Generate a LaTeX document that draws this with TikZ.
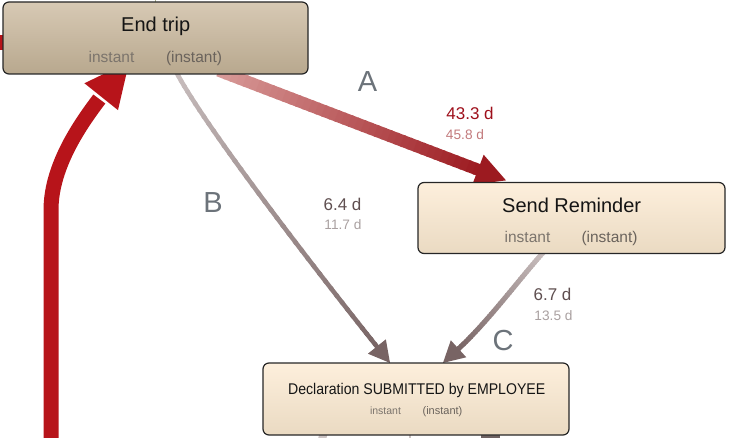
\documentclass[tikz,border=0pt]{standalone}
\usepackage{fontspec}
\setmainfont{Liberation Sans}
\usetikzlibrary{calc}
\pgfdeclarelayer{bg}
\pgfsetlayers{bg,main}

\definecolor{endtop}{HTML}{D7C9B4}
\definecolor{endbot}{HTML}{B8A88E}
\definecolor{bxtop}{HTML}{FDEFDC}
\definecolor{bxbot}{HTML}{EADAC2}
\definecolor{boxline}{HTML}{262626}
\definecolor{aStart}{HTML}{D89C9A}
\definecolor{aEnd}{HTML}{9C1A20}
\definecolor{gStart}{HTML}{CBC1C1}
\definecolor{gEnd}{HTML}{786464}
\definecolor{redArrow}{HTML}{B7141A}
\definecolor{letterc}{HTML}{6C737A}
\definecolor{titlec}{HTML}{151515}
\definecolor{instc}{HTML}{7B746C}
\definecolor{pinstc}{HTML}{6A635C}
\definecolor{durA}{HTML}{9E0F1B}
\definecolor{durAs}{HTML}{C27A7C}
\definecolor{durG}{HTML}{5F4F50}
\definecolor{durGs}{HTML}{A9A0A0}
\definecolor{stubgreen}{HTML}{A8B088}
\definecolor{stublight}{HTML}{CCC4C4}
\definecolor{stubdark}{HTML}{6E6262}

\newcommand{\myfs}[1]{\fontsize{#1pt}{#1pt}\selectfont}

% gradient cubic bezier: #1..#4 coordinates, #5 start colour, #6 end colour, #7 width
\newcommand{\gradbez}[7]{%
  \foreach \i in {1,...,40}{%
    \pgfmathsetmacro{\gbTa}{(\i-1)/40}%
    \pgfmathsetmacro{\gbTb}{min(1,\i/40+0.008)}%
    \pgfmathtruncatemacro{\gbPc}{100-100*(\i-0.5)/40}%
    \pgfmathsetmacro{\gbA}{(1-\gbTa)^3}%
    \pgfmathsetmacro{\gbB}{3*(1-\gbTa)^2*\gbTa}%
    \pgfmathsetmacro{\gbC}{3*(1-\gbTa)*\gbTa^2}%
    \pgfmathsetmacro{\gbD}{\gbTa^3}%
    \pgfmathsetmacro{\gbE}{(1-\gbTb)^3}%
    \pgfmathsetmacro{\gbF}{3*(1-\gbTb)^2*\gbTb}%
    \pgfmathsetmacro{\gbG}{3*(1-\gbTb)*\gbTb^2}%
    \pgfmathsetmacro{\gbH}{\gbTb^3}%
    \draw[line width=#7, color=#5!\gbPc!#6]
      ($\gbA*(#1)+\gbB*(#2)+\gbC*(#3)+\gbD*(#4)$) --
      ($\gbE*(#1)+\gbF*(#2)+\gbG*(#3)+\gbH*(#4)$);
  }}
% triangular head: #1 base centre, #2 tip, #3 half width, #4 colour
\newcommand{\headtri}[4]{%
  \fill[#4] (#2) -- ($(#1)!#3!90:(#2)$) -- ($(#1)!#3!-90:(#2)$) -- cycle;}

\begin{document}
\begin{tikzpicture}[x=1pt,y=-1pt,
  box/.style={draw=boxline, line width=1.2pt, rounded corners=6pt, inner sep=0pt},
  endbox/.style={box, top color=endtop, bottom color=endbot, minimum width=305pt, minimum height=72pt},
  actbox/.style={box, top color=bxtop, bottom color=bxbot, minimum width=306pt, minimum height=71pt},
  title/.style={anchor=base, inner sep=0pt, text=titlec, font=\myfs{20}},
  inst/.style={anchor=base, inner sep=0pt, text=instc, font=\myfs{15.5}},
  pinst/.style={anchor=base, inner sep=0pt, text=pinstc, font=\myfs{15.5}},
  sinst/.style={anchor=base, inner sep=0pt, text=instc, font=\myfs{10.5}},
  spinst/.style={anchor=base, inner sep=0pt, text=pinstc, font=\myfs{11}},
  letter/.style={anchor=base, inner sep=0pt, text=letterc, font=\myfs{29}},
  dur/.style={anchor=base, inner sep=0pt, font=\myfs{17}},
  durs/.style={anchor=base, inner sep=0pt, font=\myfs{13.7}}
]
\useasboundingbox (0,0) rectangle (730,438);
\clip (0,0) rectangle (730,438);

% boxes
\node[endbox] (end) at (155.5,38) {};
\node[actbox, minimum width=307pt] (send) at (571.5,218) {};
\node[actbox, minimum height=72pt] (decl) at (416,399) {};

% texts
\node[title] (endT) at (155.7,31.7) {End trip};
\node[inst] (endI) at (111.5,62.5) {instant};
\node[pinst] (endP) at (194,62.5) {(instant)};
\node[title] (sendT) at (571.7,212.7) {Send Reminder};
\node[inst] (sendI) at (527.5,242.7) {instant};
\node[pinst] (sendP) at (609.5,242.7) {(instant)};
\node[title, font=\myfs{15.5}] (declT) at (416.7,394) {\scalebox{0.91}[1]{Declaration SUBMITTED by EMPLOYEE}};
\node[sinst] (declI) at (385.5,414) {instant};
\node[spinst] (declP) at (442.5,414) {(instant)};

% edge labels
\node[letter] (labA) at (367.5,91.5) {A};
\node[letter] (labB) at (213,213) {B};
\node[letter] (labC) at (503,350.5) {C};
\node[dur, text=durA] (dA) at (470,119.3) {43.3 d};
\node[durs, text=durAs] (dAs) at (465,140) {45.8 d};
\node[dur, text=durG] (dB) at (342.5,211) {6.4 d};
\node[durs, text=durGs] (dBs) at (343,229.3) {11.7 d};
\node[dur, text=durG] (dC) at (552.5,300.7) {6.7 d};
\node[durs, text=durGs] (dCs) at (553.5,320) {13.5 d};

\begin{pgfonlayer}{bg}
% stubs of edges that leave the picture
\coordinate (lstub) at ($(end.west)+(-20,4.5)$);
\draw[redArrow, line width=15pt] (lstub) -- ($(end.west)+(10,4.5)$);
\coordinate (tstub) at ($(end.north)+(0,-10)$);
\draw[stubgreen, line width=1.5pt] (tstub) -- ($(end.north)+(0,6)$);
\coordinate (bs1) at ($(decl.south)+(-96,12)$);
\draw[stublight, line width=8pt] ($(decl.south)+(-92,-4)$) -- (bs1);
\coordinate (bs2) at ($(decl.south)+(-6,12)$);
\draw[stublight, line width=2.5pt] ($(decl.south)+(-6,-4)$) -- (bs2);
\coordinate (bs3) at ($(decl.south)+(74,12)$);
\draw[stubdark, line width=19pt] ($(decl.south)+(74,-4)$) -- (bs3);

% edge A : End trip -> Send Reminder
\coordinate (a0) at ($(end.south)+(63,-4)$);
\coordinate (aT) at ($(send.north)+(-65.5,-1.5)$);
\coordinate (aE) at ($(aT)!27pt!(a0)$);
\coordinate (aB) at ($(aT)!30pt!(a0)$);
\coordinate (a1) at ($(a0)!0.333!(aE)$);
\coordinate (a2) at ($(a0)!0.667!(aE)$);
\gradbez{a0}{a1}{a2}{aE}{aStart}{aEnd}{12pt}
\headtri{aB}{aT}{16pt}{aEnd}

% edge B : End trip -> Declaration
\coordinate (b0) at ($(end.south)+(20,-4)$);
\coordinate (b1) at (205,128);
\coordinate (b2) at (330,288);
\coordinate (bT) at ($(decl.north)+(-26,0.5)$);
\coordinate (bE) at ($(bT)!19pt!(b2)$);
\coordinate (bB) at ($(bT)!21pt!(b2)$);
\gradbez{b0}{b1}{b2}{bE}{gStart}{gEnd}{4.5pt}
\headtri{bB}{bT}{11.5pt}{gEnd}

% edge C : Send Reminder -> Declaration
\coordinate (c0) at ($(send.south)+(-27,-3)$);
\coordinate (c1) at (520,278);
\coordinate (c2) at (488,322);
\coordinate (cT) at ($(decl.north)+(27,0.5)$);
\coordinate (cE) at ($(cT)!19pt!(c2)$);
\coordinate (cB) at ($(cT)!21pt!(c2)$);
\gradbez{c0}{c1}{c2}{cE}{gStart}{gEnd}{5pt}
\headtri{cB}{cT}{11.5pt}{gEnd}

% red edge entering End trip from below
\coordinate (r0) at (51,450);
\coordinate (rB) at (101.2,96.7);
\coordinate (rT) at ($(rB)+(28,-35)$);
\draw[redArrow, line width=15pt] (r0) -- (51,210) .. controls (51,165) and (82,122) .. ($(rB)!-3pt!(rT)$);
\headtri{rB}{rT}{21.5pt}{redArrow}
\end{pgfonlayer}
\end{tikzpicture}
\end{document}
